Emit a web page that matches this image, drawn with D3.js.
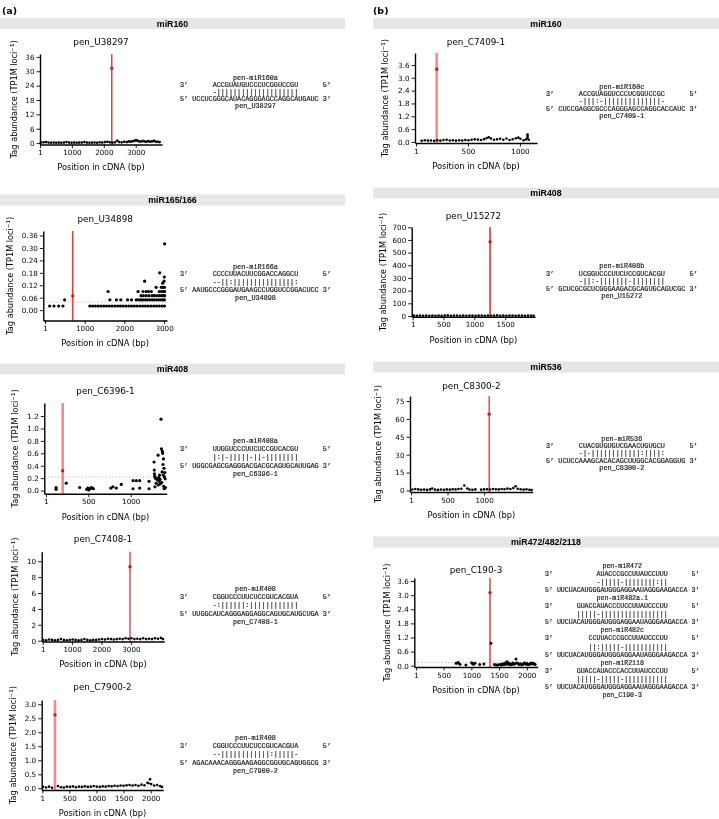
<!DOCTYPE html>
<html><head><meta charset="utf-8">
<script src="https://cdn.jsdelivr.net/npm/d3@7"></script>
<style>body{margin:0;background:#fff}svg{display:block;background:#fff}</style>
</head><body><svg id="c" width="719" height="819"></svg>
<script>
// ---------------- DATA ----------------
const headersLeft = ["miR160", "miR165/166", "miR408"];
const headersRight = ["miR160", "miR408", "miR536", "miR472/482/2118"];
const panelIds = ["a1","a2","a3","a4","a5","b1","b2","b3","b4"];
const genes = ["pen_U38297","pen_U34898","pen_C6396-1","pen_C7408-1","pen_C7900-2","pen_C7409-1","pen_U15272","pen_C8300-2","pen_C190-3"];
const xDomains = [[0,3824],[-42,3074],[-19,1424],[-33,4137],[-10,2233],[-9,1164],[-15,1983],[-13,1665],[-30,2197]];
const yDomains = [[-0.6,37.2],[-0.05,0.382],[-0.05,1.41],[-0.1,11.2],[-0.06,3.15],[-0.05,4.16],[-5.5,702],[-1.26,79.2],[-0.055,3.73]];
const xTicks = [[1,1000,2000,3000],[1,1000,2000,3000],[1,500,1000],[1,1000,2000,3000],[1,500,1000,1500,2000],[1,500,1000],[1,500,1000,1500],[1,500,1000],[1,500,1000,1500,2000]];
const yTicks = [[0,6,12,18,24,30,36],[0,0.06,0.12,0.18,0.24,0.30,0.36],[0,0.2,0.4,0.6,0.8,1.0,1.2],[0,2,4,6,8,10],[0,0.5,1.0,1.5,2.0,2.5,3.0],[0,0.6,1.2,1.8,2.4,3.0,3.6],[0,100,200,300,400,500,600,700],[0,15,30,45,60,75],[0,0.6,1.2,1.8,2.4,3.0,3.6]];
const yFmt = ["d",".2f",".1f","d",".1f",".1f","d","d",".1f"];
const cleaveSite = [2250,700,198,2970,235,200,1255,1070,1336];
const cleaveValue = [31.2,0.068,0.32,9.3,2.62,3.4,586,64,3.11];
const thresholds = [0.5,0.039,0.22,null,0.05,null,null,null,0.145];

const a1Points = [[30,0.2],[110,0.3],[190,0.4],[270,0.2],[350,0.1],[430,0.2],[510,0.1],[590,0.2],[670,0.1],[750,0.2],[830,0.4],[910,0.2],[990,0.1],[1070,0.2],[1150,0.1],[1230,0.2],[1310,0.2],[1390,0.4],[1470,0.2],[1550,0.1],[1630,0.2],[1710,0.2],[1790,0.1],[1870,0.3],[1950,0.2],[2030,0.4],[2110,0.5],[2190,0.3],[2270,0.2],[2350,0.3],[2420,1.0],[2480,0.4],[2560,0.3],[2640,0.5],[2720,0.4],[2780,0.7],[2840,0.6],[2900,0.8],[2960,0.9],[3010,1.3],[3040,1.1],[3090,0.8],[3150,0.6],[3210,0.9],[3270,0.7],[3330,0.5],[3390,0.8],[3450,0.6],[3510,0.7],[3570,0.9],[3630,0.6],[3690,0.5],[3750,0.4]];
const a2Points = [[118,0.02],[227,0.02],[345,0.02],[453,0.02],[495,0.05],[1130,0.02],[1200,0.02],[1270,0.02],[1340,0.02],[1410,0.02],[1480,0.02],[1550,0.02],[1620,0.02],[1690,0.02],[1760,0.02],[1830,0.02],[1900,0.02],[1970,0.02],[2040,0.02],[2110,0.02],[2180,0.02],[2250,0.02],[2320,0.02],[2390,0.02],[2460,0.02],[2530,0.02],[2600,0.02],[2670,0.02],[2740,0.02],[2810,0.02],[2880,0.02],[2950,0.02],[3010,0.02],[1590,0.09],[1635,0.05],[1800,0.05],[1910,0.05],[2080,0.05],[2180,0.05],[2300,0.05],[2345,0.09],[2360,0.05],[2420,0.05],[2470,0.05],[2530,0.05],[2580,0.05],[2640,0.05],[2700,0.05],[2750,0.05],[2810,0.05],[2860,0.05],[2920,0.05],[2970,0.05],[3010,0.05],[2420,0.07],[2480,0.07],[2550,0.07],[2620,0.07],[2700,0.07],[2760,0.07],[2830,0.07],[2890,0.07],[2940,0.07],[2990,0.07],[3015,0.07],[2470,0.09],[2550,0.09],[2610,0.09],[2680,0.09],[2880,0.09],[2940,0.09],[2985,0.09],[3015,0.09],[2800,0.11],[2930,0.11],[2975,0.11],[3010,0.11],[2510,0.14],[2965,0.13],[3000,0.14],[3005,0.16],[2890,0.18],[3015,0.32]];
const a3Points = [[120,0.05],[120,0.02],[240,0.12],[398,0.05],[480,0.02],[495,0.04],[505,0.01],[520,0.03],[535,0.05],[548,0.04],[560,0.03],[765,0.04],[790,0.06],[830,0.04],[889,0.1],[1027,0.16],[1027,0.03],[1066,0.16],[1106,0.16],[1106,0.04],[1216,0.15],[1216,0.03],[1275,0.46],[1278,0.33],[1280,0.27],[1283,0.23],[1285,0.06],[1290,0.2],[1300,0.12],[1310,0.18],[1322,0.57],[1325,0.09],[1330,0.21],[1335,0.15],[1340,0.25],[1345,0.18],[1350,0.11],[1357,1.15],[1362,0.67],[1366,0.13],[1370,0.3],[1373,0.63],[1376,0.6],[1380,0.42],[1383,0.25],[1386,0.51],[1388,0.07],[1392,0.36],[1395,0.03],[1398,0.22],[1402,0.29],[1406,0.19],[1410,0.05]];
const a4Points = [[20,0.1],[120,0.05],[220,0.15],[320,0.1],[420,0.05],[520,0.1],[620,0.2],[720,0.1],[820,0.05],[920,0.1],[1020,0.15],[1120,0.1],[1220,0.05],[1320,0.1],[1420,0.2],[1520,0.1],[1620,0.05],[1720,0.1],[1820,0.1],[1920,0.15],[2020,0.2],[2120,0.15],[2220,0.25],[2320,0.2],[2420,0.15],[2520,0.2],[2620,0.25],[2720,0.2],[2820,0.3],[2920,0.25],[3020,0.3],[3120,0.2],[3220,0.25],[3320,0.2],[3420,0.3],[3520,0.2],[3620,0.25],[3720,0.2],[3820,0.3],[3920,0.25],[4020,0.35],[4090,0.2]];
const a5Points = [[15,0.05],[70,0.03],[125,0.06],[180,0.02],[290,0.08],[345,0.04],[400,0.03],[455,0.06],[510,0.05],[565,0.07],[620,0.04],[675,0.06],[730,0.05],[785,0.07],[840,0.05],[895,0.06],[950,0.08],[1005,0.06],[1060,0.05],[1115,0.07],[1170,0.06],[1225,0.08],[1280,0.07],[1335,0.09],[1390,0.08],[1445,0.1],[1500,0.09],[1555,0.11],[1610,0.12],[1665,0.1],[1720,0.12],[1775,0.09],[1830,0.13],[1885,0.11],[1940,0.2],[1960,0.18],[1988,0.32],[2010,0.15],[2065,0.1],[2120,0.12],[2175,0.08],[2210,0.05]];
const b1Points = [[55,0.05],[85,0.08],[115,0.06],[145,0.07],[175,0.05],[205,0.08],[235,0.06],[265,0.09],[295,0.1],[325,0.07],[355,0.08],[385,0.06],[415,0.08],[445,0.07],[475,0.09],[505,0.08],[535,0.1],[565,0.12],[595,0.11],[625,0.09],[655,0.13],[680,0.18],[700,0.22],[720,0.16],[750,0.1],[780,0.12],[810,0.15],[840,0.1],[870,0.16],[900,0.09],[930,0.12],[960,0.17],[985,0.2],[1005,0.15],[1035,0.08],[1060,0.12],[1073,0.35],[1073,0.28],[1073,0.2],[1085,0.1]];
const b2Points = [[20,3],[70,2],[120,4],[170,2],[220,3],[270,1],[320,3],[370,2],[420,4],[470,2],[520,3],[570,5],[620,2],[670,3],[720,4],[770,2],[820,3],[870,2],[920,4],[970,3],[1020,2],[1070,3],[1120,4],[1170,2],[1220,3],[1270,2],[1320,3],[1370,5],[1420,2],[1470,3],[1520,2],[1570,4],[1620,3],[1670,2],[1720,3],[1770,4],[1820,2],[1870,3],[1920,4],[1960,2]];
const b3Points = [[20,0.8],[60,1.2],[100,0.9],[140,0.6],[180,0.8],[220,0.5],[260,0.9],[290,1.6],[330,0.7],[370,0.5],[410,0.8],[450,0.6],[490,0.9],[530,0.7],[570,1.1],[610,0.9],[650,1.3],[690,1.5],[730,4.2],[770,1.7],[800,0.8],[840,0.6],[880,0.9],[960,0.7],[1000,0.9],[1040,1.1],[1080,0.8],[1120,1.2],[1160,1.0],[1200,0.9],[1240,1.3],[1280,1.1],[1320,1.6],[1360,1.3],[1400,2.0],[1432,3.6],[1460,1.5],[1500,1.0],[1540,0.7],[1580,1.1],[1620,0.6],[1650,0.4]];
const b4Points = [[722,0.10],[745,0.12],[764,0.14],[794,0.06],[902,0.03],[1005,0.13],[1020,0.09],[1035,0.06],[1065,0.10],[1150,0.05],[1227,0.07],[1354,0.95],[1417,0.05],[1440,0.03],[1462,0.03],[1490,0.04],[1522,0.05],[1545,0.03],[1565,0.08],[1590,0.05],[1613,0.12],[1630,0.06],[1643,0.17],[1660,0.08],[1673,0.10],[1690,0.04],[1703,0.07],[1725,0.05],[1745,0.12],[1765,0.06],[1781,0.08],[1805,0.28],[1815,0.12],[1835,0.10],[1860,0.05],[1883,0.08],[1905,0.04],[1925,0.05],[1945,0.10],[1961,0.12],[1985,0.06],[2004,0.09],[2025,0.05],[2046,0.06],[2065,0.10],[2082,0.12],[2100,0.07],[2112,0.10],[2136,0.08],[2150,0.05]];
const allPoints = [a1Points,a2Points,a3Points,a4Points,a5Points,b1Points,b2Points,b3Points,b4Points];

// alignments
const mirNames = [["pen-miR160a"],["pen-miR166a"],["pen-miR408a"],["pen-miR408"],["pen-miR408"],["pen-miR160c"],["pen-miR408b"],["pen-miR536"],["pen-miR472","pen-miR482a.1","pen-miR482c","pen-miR2118"]];
const mirSeqs = [["ACCGUAUGUCCCUCGGUCCGU"],["CCCCUUACUUCGGACCAGGCU"],["UUGGUCCCUUCUCCGUCACGU"],["CGGUCCCUUCUCCGUCACGUA"],["CGGUCCCUUCUCCGUCACGUA"],["ACCGUAGGUCCCUCGGUCCGC"],["UCGGUCCCUUCUCCGUCACGU"],["CUACGUGUGUCGAACUGUGCU"],["AUACCCGCCUUAUCCUUU","GUACCAUACCCUCCUUAUCCCUU","CCUUACCCGCCUUAUCCCUU","GUACCAUACCCACCUUAUCCCUU"]];
const pairings = [["-||||||||||||||||||||"],["--||:|||||||||||||||:"],["|:|-|||||-||-||||||||"],["-:||||||:||||||||||||"],["--||||||||||||:|||||-"],["-|||:-||||||||||||||-"],["-||:-|||||||-||||||||"],["-|-||||||||||||:||||:"],["-|||||-||||||||:||","|||||-|||||||||||||||||","||:|||||-|||||||||||","|||||-|||||-|||||||||||"]];
const mirOffsets = [[5],[5],[5],[5],[5],[5],[5],[5],[10,5,8,5]];
const targetSeqs = ["UCCUCGGGCAUACAGGGAGCCAGGCAUGAUC","AAUGCCCGGGAUGAAGCCUGGUCCGGACUCC","UGGCGAGCGAGGGACGACGCAGUGCAUUGAG","UUGGCAUCAGGGAGGAGGCAGUGCAUGCUGA","AGACAAACAGGGAAGAGGCGGUGCAGUGGCG","CUCCGAGGCGCCCAGGGAGCCAGGCACCAUC","GCUCGCGCUCGGGAAGACGCAGUGCAGUCGC","UCUCCAAAGCACACAGCUUGGCACGGAGGUG","UUCUACAUGGGAUGGGAGGAAUAGGGAAGACCA"];

// ---------------- LAYOUT (positions / styles) ----------------
const layout = {
  a1:{axL:40,axR:162,axT:54,axB:144.5,T:42,ylx:14,bx:180,by:92,ls:7,cw:4.08,lw:1.4,lo:0.9,r:1.3},
  a2:{axL:43.3,axR:167,axT:231,axB:320.5,T:219,ylx:10,bx:180,by:282,ls:7.9,cw:4.08,lw:1.4,lo:0.9,r:1.6},
  a3:{axL:44.3,axR:166.7,axT:403,axB:493.7,T:391,ylx:15,bx:180,by:457,ls:8.2,cw:4.08,lw:2.6,lo:0.5,r:1.6},
  a4:{axL:41.7,axR:164.3,axT:551.7,axB:641.5,T:539,ylx:15,bx:180,by:605,ls:8.2,cw:4.08,lw:1.3,lo:0.9,r:1.3},
  a5:{axL:41.7,axR:163.3,axT:700,axB:790,T:687,ylx:13.5,bx:180,by:754,ls:8.2,cw:4.08,lw:2.6,lo:0.5,r:1.3},
  b1:{axL:415,axR:537,axT:53,axB:143,T:42,ylx:385,bx:546,by:101,ls:7.2,cw:4.1,lw:2.6,lo:0.5,r:1.3},
  b2:{axL:411.7,axR:535,axT:227,axB:316.7,T:215.7,ylx:382.7,bx:546,by:281,ls:7.5,cw:4.1,lw:1.8,lo:0.8,r:1.3},
  b3:{axL:410,axR:532.7,axT:396,axB:492,T:386,ylx:378,bx:546,by:453,ls:7.3,cw:4.1,lw:1.3,lo:0.9,r:1.3},
  b4:{axL:414.3,axR:537.7,axT:578,axB:667,T:570,ylx:386.7,bx:545,by:630,ls:8.1,cw:3.96,lw:1.4,lo:0.9,r:1.5}
};
const headerYLeft = [23.5,200,369];
const headerYRight = [23.5,193,367,542];

// ---------------- DRAW ----------------
const svg = d3.select("#c").append("g").attr("opacity",0.999);
const SANS = "'DejaVu Sans', sans-serif";
const MONO = "'Liberation Mono', 'Courier New', monospace";
const RED = "#e41a1c";

svg.append("text").attr("x",2).attr("y",14).attr("font-family",SANS).attr("font-weight","bold").attr("font-size",9.5).text("(a)");
svg.append("text").attr("x",373).attr("y",14).attr("font-family",SANS).attr("font-weight","bold").attr("font-size",9.5).text("(b)");

function header(x0,x1,yc,label){
  svg.append("rect").attr("x",x0).attr("y",yc-5.5).attr("width",x1-x0).attr("height",11).attr("fill","#e6e6e6");
  svg.append("text").attr("x",(x0+x1)/2).attr("y",yc).attr("dy","0.36em").attr("text-anchor","middle")
    .attr("font-family","'Liberation Sans', Arial, sans-serif").attr("font-weight","bold").attr("font-size",8.8).text(label);
}
headersLeft.forEach((h,i)=>header(0,345,headerYLeft[i],h));
headersRight.forEach((h,i)=>header(373,719,headerYRight[i],h));

function drawPanel(i){
  const L = layout[panelIds[i]];
  const x = d3.scaleLinear().domain(xDomains[i]).range([L.axL,L.axR]);
  const y = d3.scaleLinear().domain(yDomains[i]).range([L.axB,L.axT]);
  const g = svg.append("g");
  if (thresholds[i] != null) {
    g.append("line").attr("x1",L.axL).attr("x2",L.axR).attr("y1",y(thresholds[i])).attr("y2",y(thresholds[i]))
      .attr("stroke","#f08a8a").attr("stroke-width",0.8).attr("stroke-dasharray","1.2,2.2");
  }
  g.append("line").attr("x1",x(cleaveSite[i])).attr("x2",x(cleaveSite[i])).attr("y1",L.axB).attr("y2",L.axT)
    .attr("stroke",RED).attr("stroke-width",L.lw).attr("stroke-opacity",L.lo);
  g.selectAll("circle.pt").data(allPoints[i]).join("circle").attr("class","pt")
    .attr("cx",p=>x(p[0])).attr("cy",p=>y(p[1])).attr("r",L.r).attr("fill","#000");
  g.append("circle").attr("cx",x(cleaveSite[i])).attr("cy",y(cleaveValue[i])).attr("r",1.7).attr("fill","#d0161a");

  const xa = g.append("g").attr("transform",`translate(0,${L.axB})`)
    .call(d3.axisBottom(x).tickValues(xTicks[i]).tickFormat(d3.format("d")).tickSize(3.5).tickSizeOuter(0).tickPadding(2));
  const ya = g.append("g").attr("transform",`translate(${L.axL},0)`)
    .call(d3.axisLeft(y).tickValues(yTicks[i]).tickFormat(d3.format(yFmt[i])).tickSize(3.5).tickSizeOuter(0).tickPadding(2));
  [xa,ya].forEach(a=>{
    a.attr("font-family",SANS).attr("font-size",7.2);
    a.select(".domain").attr("stroke","#000").attr("stroke-width",1.4);
    a.selectAll(".tick line").attr("stroke","#000").attr("stroke-width",0.9);
    a.selectAll(".tick text").attr("fill","#000");
  });
  const cx = (L.axL+L.axR)/2;
  g.append("text").attr("x",cx).attr("y",L.T).attr("dy","0.36em").attr("text-anchor","middle")
    .attr("font-family",SANS).attr("font-size",8.8).text(genes[i]);
  g.append("text").attr("x",cx).attr("y",L.axB+23).attr("dy","0.36em").attr("text-anchor","middle")
    .attr("font-family",SANS).attr("font-size",8.3).text("Position in cDNA (bp)");
  const yl = g.append("text").attr("transform",`translate(${L.ylx},${(L.axT+L.axB)/2}) rotate(-90)`)
    .attr("text-anchor","middle").attr("dy","0.36em").attr("font-family",SANS).attr("font-size",8.2);
  yl.append("tspan").text("Tag abundance (TP1M loci");
  yl.append("tspan").attr("dy",-3).attr("font-size",5.6).text("\u22121");
  yl.append("tspan").attr("dy",3).text(")");

  // alignment block
  const cw = L.cw, fs = cw/0.6, tgt = targetSeqs[i], T = tgt.length;
  const lines = [];
  mirNames[i].forEach((n,k)=>{
    const off = mirOffsets[i][k];
    lines.push({center:n});
    lines.push({segs:[[0,"3\u2019"],[3+off,mirSeqs[i][k]],[T+4,"5\u2019"]]});
    lines.push({segs:[[3+off,pairings[i][k]]]});
    lines.push({segs:[[0,"5\u2019"],[3,tgt],[T+4,"3\u2019"]]});
  });
  lines.push({center:genes[i]});
  const y0 = L.by - (lines.length-1)/2*L.ls;
  const ag = g.append("g").attr("font-family",MONO).attr("font-size",fs).attr("fill","#1a1a1a")
    .attr("stroke","#1a1a1a").attr("stroke-width",0.18);
  lines.forEach((ln,k)=>{
    const yy = y0 + k*L.ls;
    if (ln.center) {
      ag.append("text").attr("x",L.bx+(3+T/2)*cw).attr("y",yy).attr("dy","0.35em").attr("text-anchor","middle").text(ln.center);
    } else {
      ln.segs.forEach(s=>ag.append("text").attr("x",L.bx+s[0]*cw).attr("y",yy).attr("dy","0.35em").text(s[1]));
    }
  });
}
panelIds.forEach((_,i)=>drawPanel(i));
</script>
</body></html>
